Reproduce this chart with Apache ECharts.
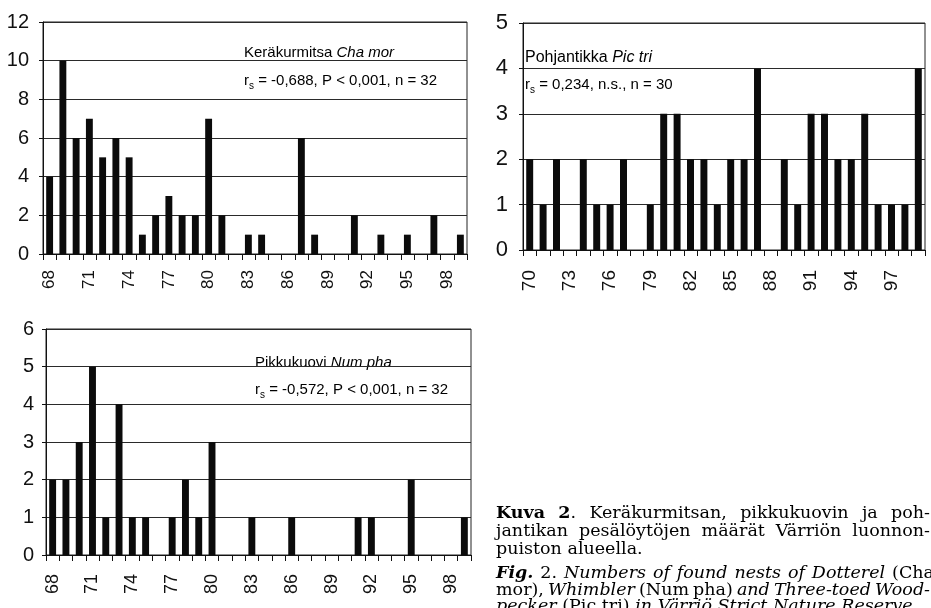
<!DOCTYPE html>
<html>
<head>
<meta charset="utf-8">
<script src="https://cdn.jsdelivr.net/npm/echarts@6/dist/echarts.min.js"></script>
<style>
  html, body { margin: 0; padding: 0; background: #fff; }
  #chart { width: 931px; height: 608px; }
</style>
</head>
<body>
<div id="chart"></div>
<script>
// Nest finds per year in the Värriö Strict Nature Reserve
const yearsChaNum = ['68','69','70','71','72','73','74','75','76','77','78','79','80','81','82','83',
                     '84','85','86','87','88','89','90','91','92','93','94','95','96','97','98','99'];
const yearsPic = ['70','71','72','73','74','75','76','77','78','79','80','81','82','83','84',
                  '85','86','87','88','89','90','91','92','93','94','95','96','97','98','99'];

const chaMor = [4,10,6,7,5,6,5,1,2,3,2,2,7,2,0,1,1,0,0,6,1,0,0,2,0,1,0,1,0,2,0,1];
const picTri = [2,1,2,0,2,1,1,2,0,1,3,3,2,2,1,2,2,4,0,2,1,3,3,2,2,3,1,1,1,4];
const numPha = [2,2,3,5,1,4,1,1,0,1,2,1,3,0,0,1,0,0,1,0,0,0,0,1,1,0,0,2,0,0,0,1];

// Value axis ranges: [max, step]
const yRangeCha = [12, 2];
const yRangePic = [5, 1];
const yRangeNum = [6, 1];

// Species names and rank-correlation statements
const nameCha = ['Keräkurmitsa ', 'Cha mor'];
const statCha = ' = -0,688, P < 0,001, n = 32';
const namePic = ['Pohjantikka ', 'Pic tri'];
const statPic = ' = 0,234, n.s., n = 30';
const nameNum = ['Pikkukuovi ', 'Num pha'];
const statNum = ' = -0,572, P < 0,001, n = 32';

// Figure caption, as styled runs per line (r regular, b bold, i italic, bi bold italic)
const captionLines = [
  { parts: [['b', 'Kuva 2'], ['r', '. Keräkurmitsan, pikkukuovin ja poh-']], justify: true },
  { parts: [['r', 'jantikan pesälöytöjen määrät Värriön luonnon-']], justify: true },
  { parts: [['r', 'puiston alueella.']], justify: false },
  { parts: [['bi', 'Fig.'], ['r', ' 2. '], ['i', 'Numbers of found nests of Dotterel'], ['r', ' (Cha']], justify: true },
  { parts: [['r', 'mor), '], ['i', 'Whimbler'], ['r', ' (Num pha) '], ['i', 'and Three-toed Wood-']], justify: true },
  { parts: [['i', 'pecker'], ['r', ' (Pic tri) '], ['i', 'in Värriö Strict Nature Reserve.']], justify: false }
];

const SANS = '"Liberation Sans", Arial, sans-serif';
const SERIF = '"DejaVu Serif", serif';
const INK = '#111';

const chart = echarts.init(document.getElementById('chart'), null, { renderer: 'canvas' });

function xAxisFor(gridIndex, cats, fontSize, margin) {
  return {
    gridIndex, type: 'category', data: cats,
    axisLine: { show: true, lineStyle: { color: INK, width: 1 } },
    axisTick: { show: true, interval: 0, length: 6, lineStyle: { color: INK } },
    axisLabel: { interval: 2, rotate: 90, fontSize, fontFamily: SANS, color: INK, margin },
    splitLine: { show: false }
  };
}

function yAxisFor(gridIndex, range, fontSize, margin) {
  return {
    gridIndex, type: 'value', min: 0, max: range[0], interval: range[1],
    axisLine: { show: true, lineStyle: { color: INK, width: 1 } },
    axisTick: { show: true, length: 4, lineStyle: { color: INK } },
    axisLabel: { fontSize, fontFamily: SANS, color: INK, margin },
    splitLine: { show: true, lineStyle: { color: '#2a2a2a', width: 1 } }
  };
}

function barSeries(idx, data) {
  return {
    type: 'bar', xAxisIndex: idx, yAxisIndex: idx, data,
    barWidth: '52%', itemStyle: { color: '#0b0b0b' },
    silent: true, animation: false
  };
}

function annRich(size) {
  return {
    n: { fontFamily: SANS, fontSize: size, color: INK, lineHeight: 20 },
    i: { fontFamily: SANS, fontSize: size, fontStyle: 'italic', color: INK, lineHeight: 20 },
    s: { fontFamily: SANS, fontSize: 10, color: INK, lineHeight: 10, verticalAlign: 'bottom' }
  };
}

function annotation(x, y1, y2, name, stat, size1) {
  return [
    { type: 'text', x, y: y1, silent: true,
      style: { text: '{n|' + name[0] + '}{i|' + name[1] + '}', rich: annRich(size1), verticalAlign: 'middle' } },
    { type: 'text', x, y: y2, silent: true,
      style: { text: '{n|r}{s|s}{n|' + stat + '}', rich: annRich(15), verticalAlign: 'middle' } }
  ];
}

// Caption typesetting: words are measured and spread so justified lines fill the column
const capSize = 17.5;
const capRich = {
  r: { fontFamily: SERIF, fontSize: capSize, color: INK },
  b: { fontFamily: SERIF, fontSize: capSize, fontWeight: 'bold', color: INK },
  i: { fontFamily: SERIF, fontSize: capSize, fontStyle: 'italic', color: INK },
  bi: { fontFamily: SERIF, fontSize: capSize, fontWeight: 'bold', fontStyle: 'italic', color: INK }
};
const capFont = {
  r: capSize + 'px "DejaVu Serif"',
  b: 'bold ' + capSize + 'px "DejaVu Serif"',
  i: 'italic ' + capSize + 'px "DejaVu Serif"',
  bi: 'italic bold ' + capSize + 'px "DejaVu Serif"'
};
const measureCtx = document.createElement('canvas').getContext('2d');
function runWidth(key, text) {
  measureCtx.font = capFont[key];
  return measureCtx.measureText(text).width;
}

function captionGraphics(left, right, baselines) {
  const out = [];
  captionLines.forEach((line, li) => {
    // split the styled runs into words, each word keeping its own runs
    const words = [];
    let cur = [];
    line.parts.forEach(([key, text]) => {
      const pieces = text.split(' ');
      pieces.forEach((p, k) => {
        if (k > 0) { if (cur.length) words.push(cur); cur = []; }
        if (p.length) cur.push([key, p]);
      });
    });
    if (cur.length) words.push(cur);

    const widths = words.map(w => w.reduce((s, [k, t]) => s + runWidth(k, t), 0));
    const total = widths.reduce((a, b) => a + b, 0);
    const natSpace = runWidth('r', ' ');
    let gap = natSpace;
    if (line.justify && words.length > 1) {
      gap = Math.max(2.5, (right[li] - left - total) / (words.length - 1));
    }
    let x = left;
    words.forEach((w, wi) => {
      const txt = w.map(([k, t]) => '{' + k + '|' + t + '}').join('');
      out.push({
        type: 'text', x, y: baselines[li] - 6, silent: true,
        style: { text: txt, rich: capRich, verticalAlign: 'middle' }
      });
      x += widths[wi] + gap;
    });
  });
  return out;
}

const option = {
  backgroundColor: '#fff',
  animation: false,
  grid: [
    { left: 43, top: 22, width: 424, height: 232, show: true, borderColor: '#222', borderWidth: 1 },
    { left: 523, top: 23, width: 402, height: 227, show: true, borderColor: '#222', borderWidth: 1 },
    { left: 46, top: 329, width: 425, height: 226, show: true, borderColor: '#222', borderWidth: 1 }
  ],
  xAxis: [
    xAxisFor(0, yearsChaNum, 17, 16),
    xAxisFor(1, yearsPic, 19, 20),
    xAxisFor(2, yearsChaNum, 18, 19)
  ],
  yAxis: [
    yAxisFor(0, yRangeCha, 20, 14),
    yAxisFor(1, yRangePic, 22, 15),
    yAxisFor(2, yRangeNum, 20, 12)
  ],
  series: [
    barSeries(0, chaMor),
    barSeries(1, picTri),
    barSeries(2, numPha)
  ],
  graphic: [].concat(
    annotation(244, 53, 81, nameCha, statCha, 15),
    annotation(525, 58, 85, namePic, statPic, 16),
    annotation(255, 363, 390, nameNum, statNum, 15),
    captionGraphics(496, [930, 930, 930, 934, 930, 930], [519, 537, 555, 579, 596, 612])
  )
};

chart.setOption(option);
</script>
</body>
</html>
